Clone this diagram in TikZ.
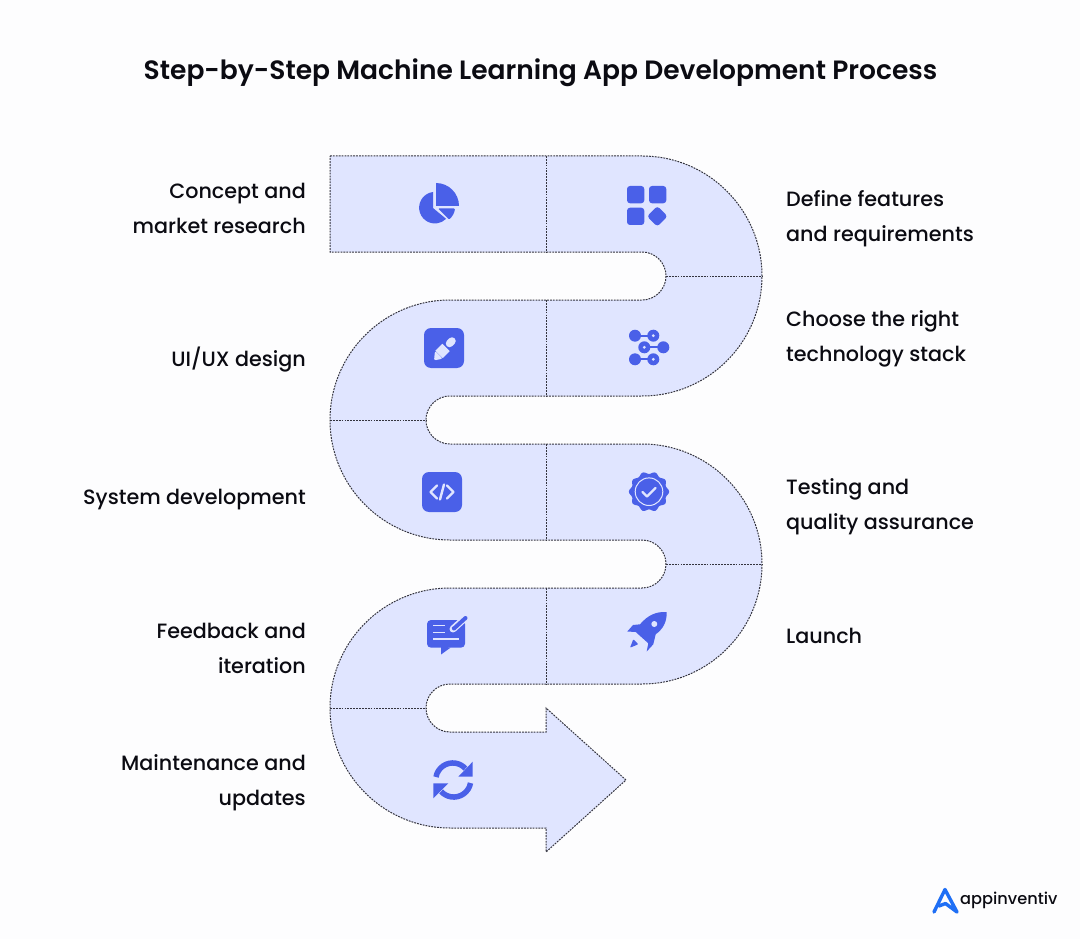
\documentclass[tikz,border=0pt]{standalone}
\usepackage{fontspec}
\setmainfont{Poppins}[UprightFont=* Medium, BoldFont=* SemiBold]
\definecolor{PathFill}{HTML}{E0E5FF}
\definecolor{IconBlue}{HTML}{4A60E8}
\definecolor{DashInk}{HTML}{34343E}
\definecolor{PageBack}{HTML}{FDFDFE}
\definecolor{LogoBlue}{HTML}{1F6FF5}
\definecolor{TextInk}{HTML}{0B0B12}
\usetikzlibrary{arrows.meta, positioning, calc}

\begin{document}
\begin{tikzpicture}[x=1pt, y=-1pt,
    every node/.style={text=TextInk, inner sep=0pt},
    outline/.style={draw=DashInk, line width=1pt, dash pattern=on 1.8pt off 1.1pt},
    leftlabel/.style={anchor=east, align=right, font=\fontsize{20.7}{35}\selectfont},
    rightlabel/.style={anchor=west, align=left, font=\fontsize{20.7}{35}\selectfont},
    glyph/.style={fill=IconBlue},
    stroke/.style={draw=PathFill, line width=2.4pt, line cap=round, line join=round}]
        \useasboundingbox (0,0) rectangle (1080,939);
        \fill[PageBack] (0,0) rectangle (1080,939);

        % Title
        \node (title) at (540.5,73) {\fontsize{26.5}{32}\selectfont\bfseries Step-by-Step Machine Learning App Development Process};

        % Ribbon
        \draw[outline, fill=PathFill] (330,156) -- (642,156) arc[start angle=90, end angle=-90, radius=120pt]
            -- (450,396) arc[start angle=90, end angle=270, radius=24pt]
            -- (642,444) arc[start angle=90, end angle=-90, radius=120pt]
            -- (450,684) arc[start angle=90, end angle=270, radius=24pt]
            -- (546,732) -- (546,708) -- (626,780) -- (546,852) -- (546,828)
            -- (450,828) arc[start angle=270, end angle=90, radius=120pt]
            -- (642,588) arc[start angle=270, end angle=450, radius=24pt]
            -- (450,540) arc[start angle=270, end angle=90, radius=120pt]
            -- (642,300) arc[start angle=270, end angle=450, radius=24pt]
            -- (330,252) -- cycle;

        % Dividers
        \draw[outline] (546,156) -- (546,252);
        \draw[outline] (546,300) -- (546,396);
        \draw[outline] (546,444) -- (546,540);
        \draw[outline] (546,588) -- (546,684);
        \draw[outline] (666,276) -- (762,276);
        \draw[outline] (330,420) -- (426,420);
        \draw[outline] (666,564) -- (762,564);
        \draw[outline] (330,708) -- (426,708);

        % Left labels
        \node[leftlabel] (concept) at (306,208) {Concept and\\market research};
        \node[leftlabel] (uiux) at (306,360) {UI/UX design};
        \node[leftlabel] (sysdev) at (306,500) {System development};
        \node[leftlabel] (feedback) at (306,648) {Feedback and\\iteration};
        \node[leftlabel] (maintain) at (306,783) {Maintenance and\\updates};

        % Right labels
        \node[rightlabel] (features) at (786,219) {Define features\\and requirements};
        \node[rightlabel] (techstack) at (786,339) {Choose the right\\technology stack};
        \node[rightlabel] (testing) at (786,507) {Testing and\\quality assurance};
        \node[rightlabel] (launch) at (786,636) {Launch};

        % Pie icon
        \fill[glyph] (433,192) arc[start angle=97, end angle=315, radius=15.8pt] -- (433,208) -- cycle;
        \fill[glyph] (436,183) arc[start angle=90, end angle=0, radius=23pt] -- (436,206) -- cycle;
        \fill[glyph, rounded corners=1pt] (438,208.5) -- (455,208.5) .. controls (454.5,213) and (452,217) .. (449,219.5) -- cycle;

        % Grid icon
        \fill[glyph, rounded corners=3pt] (627,186) rectangle (644.3,203.3);
        \fill[glyph, rounded corners=3pt] (649,186) rectangle (666.3,203.3);
        \fill[glyph, rounded corners=3pt] (627,207.7) rectangle (644.3,225);
        \fill[glyph, rounded corners=3pt] (657.3,206) -- (667.6,216.3) -- (657.3,226.6) -- (647,216.3) -- cycle;

        % Pen icon
        \fill[glyph, rounded corners=7pt] (424,328) rectangle (464,368);
        \draw[PathFill, line width=10.5pt] (439,354.5) -- (446,347.5);
        \fill[PathFill, rounded corners=2pt] (435,350.8) -- (442.8,358.6) -- (434,360.5) -- cycle;
        \draw[PathFill, line width=7.5pt, line cap=round] (449.5,343.5) -- (452,341);

        % Stack icon
        \draw[IconBlue, line width=2pt] (635,335.7) -- (648,335.7);
        \draw[IconBlue, line width=2pt] (649.5,347.3) -- (663.3,347.3);
        \draw[IconBlue, line width=2pt] (635,359.3) -- (648,359.3);
        \fill[glyph] (635,335.7) circle[radius=6pt];
        \fill[glyph] (663.3,347.3) circle[radius=6pt];
        \fill[glyph] (635,359.3) circle[radius=6pt];
        \fill[glyph, even odd rule] (653.3,335.7) circle[radius=6pt] (653.3,335.7) circle[radius=1.8pt];
        \fill[glyph, even odd rule] (644.3,347.3) circle[radius=6pt] (644.3,347.3) circle[radius=1.8pt];
        \fill[glyph, even odd rule] (653.3,359.3) circle[radius=6pt] (653.3,359.3) circle[radius=1.8pt];

        % Code icon
        \fill[glyph, rounded corners=7pt] (422,472) rectangle (462,512);
        \draw[stroke] (437,485.5) -- (430.5,492) -- (437,498.5);
        \draw[stroke] (447,485.5) -- (453.5,492) -- (447,498.5);
        \draw[stroke] (444,484.5) -- (440,499.5);

        % Badge icon
        \fill[glyph] plot[domain=0:360, samples=121, smooth] ({649+(18.9+1.2*cos(10*\x))*cos(\x)},{491.7+(18.9+1.2*cos(10*\x))*sin(\x)}) -- cycle;
        \draw[PathFill, line width=1pt] (649,491.7) circle[radius=13.8pt];
        \draw[stroke] (642.5,492) -- (647,496.5) -- (655.5,488);

        % Message icon
        \fill[glyph, rounded corners=4pt] (427,620) rectangle (465,647.7);
        \fill[glyph] (441,646) -- (441,654.5) -- (450.5,647.7) -- cycle;
        \draw[PathFill, line width=1.3pt] (433.3,625.7) -- (445,625.7);
        \draw[PathFill, line width=1.3pt] (433.3,632.3) -- (445,632.3);
        \draw[PathFill, line width=1.3pt] (433.3,639) -- (459,639);
        \draw[PathFill, line width=7pt, line cap=round] (453,629) -- (464,619);
        \draw[IconBlue, line width=4pt, line cap=round] (454,628.5) -- (465.5,618);
        \fill[glyph] (453,628) circle[radius=1.5pt];

        % Rocket icon
        \fill[glyph] (666.7,612) .. controls (656,611.5) and (648,615) .. (640,624.3)
            -- (633,625) -- (627.3,631.5) -- (635.7,632) -- (648.3,643.3) -- (646.7,651.5) -- (653.3,644.3)
            -- (655.7,634.3) .. controls (663,629) and (667,622) .. (666.7,612) -- cycle;
        \fill[PathFill] (654.3,624) circle[radius=3pt];
        \fill[glyph, rounded corners=0.8pt] (630,647.7) -- (633.3,639.3) -- (638.3,644.3) -- cycle;

        % Refresh icon
        \draw[IconBlue, line width=5.5pt] (436,777) arc[start angle=170, end angle=42, radius=17pt];
        \draw[IconBlue, line width=5.5pt] (470.5,783) arc[start angle=-10, end angle=-138, radius=17pt];
        \fill[glyph] (472.7,761.7) -- (472.7,776.7) -- (458.3,776.7) -- cycle;
        \fill[glyph] (433.3,798.3) -- (433.3,783.3) -- (448.3,783.3) -- cycle;

        % Logo
        \draw[LogoBlue, line width=3.4pt, line cap=round, line join=round] (934,912) -- (945,889.5) -- (957,912) -- (945.5,903.5) -- (939,906);
        \node[anchor=west] (brand) at (960,900.5) {\fontsize{16.2}{20}\selectfont appinventiv};
    \end{tikzpicture}
\end{document}
